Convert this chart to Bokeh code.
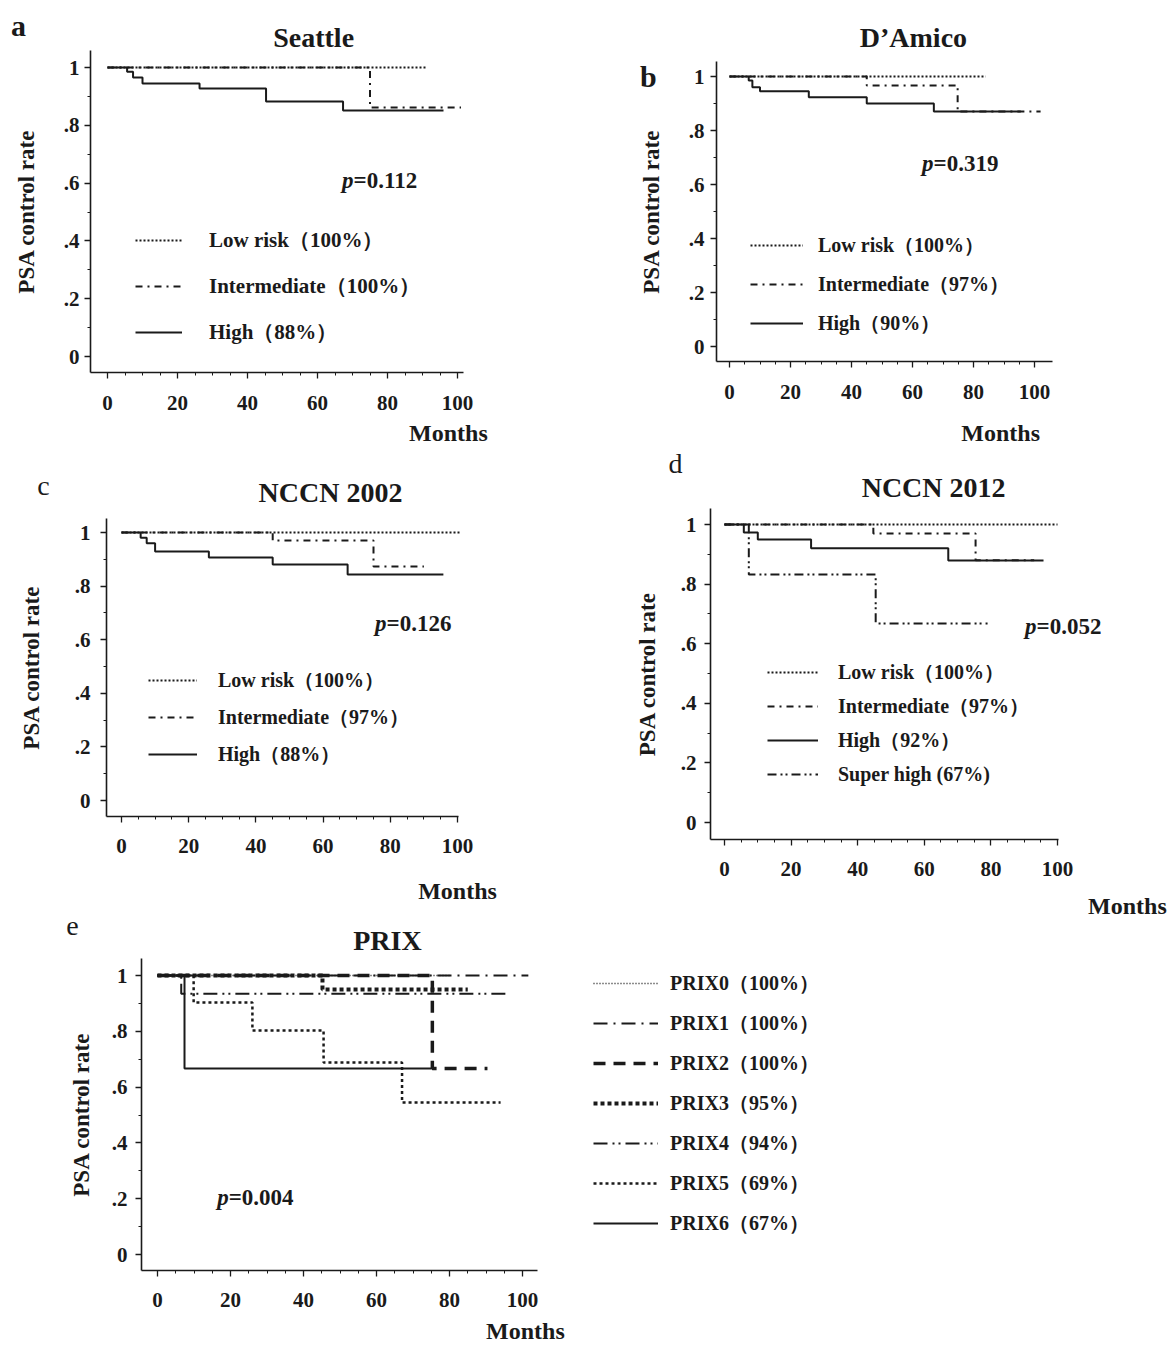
from bokeh.plotting import figure
from bokeh.models import (Label, Legend, LegendItem, FixedTicker, Range1d, LinearAxis,
                          CustomJSTickFormatter)
from bokeh.embed import file_html
from bokeh.resources import INLINE

SERIF = "Liberation Serif"
INK = "#1a1a1a"
W, H = 1173, 1344

# ---------------- data (months, PSA control rate) ----------------
# a: Seattle
a_labels = ["Low risk（100%）", "Intermediate（100%）", "High（88%）"]
a_low_t = [0, 91];                                  a_low_s = [1.0, 1.0]
a_int_t = [0, 75, 101];                             a_int_s = [1.0, 0.862, 0.862]
a_high_t = [0, 5.6, 7.3, 10, 26.3, 45.3, 67.3, 96]; a_high_s = [1.0, 0.985, 0.965, 0.945, 0.927, 0.882, 0.851, 0.851]
a_p = "=0.112"

# b: D'Amico
b_labels = ["Low risk（100%）", "Intermediate（97%）", "High（90%）"]
b_low_t = [0, 84];                                  b_low_s = [1.0, 1.0]
b_int_t = [0, 45, 74.8, 102];                       b_int_s = [1.0, 0.967, 0.87, 0.87]
b_high_t = [0, 6.3, 7.5, 10, 26, 45, 67, 95.5];     b_high_s = [1.0, 0.985, 0.96, 0.945, 0.923, 0.90, 0.87, 0.87]
b_p = "=0.319"

# c: NCCN 2002
c_labels = ["Low risk（100%）", "Intermediate（97%）", "High（88%）"]
c_low_t = [0, 101];                                 c_low_s = [1.0, 1.0]
c_int_t = [0, 45, 75, 90];                          c_int_s = [1.0, 0.97, 0.873, 0.873]
c_high_t = [0, 5.7, 7.5, 10, 26, 45, 67.3, 95.8];   c_high_s = [1.0, 0.98, 0.96, 0.929, 0.907, 0.881, 0.843, 0.843]
c_p = "=0.126"

# d: NCCN 2012
d_labels = ["Low risk（100%）", "Intermediate（97%）", "High（92%）", "Super high (67%)"]
d_low_t = [0, 100];                                 d_low_s = [1.0, 1.0]
d_int_t = [0, 44.7, 75.4, 93];                      d_int_s = [1.0, 0.97, 0.88, 0.88]
d_high_t = [0, 5.8, 10, 26, 67.2, 95.8];            d_high_s = [1.0, 0.973, 0.95, 0.92, 0.879, 0.879]
d_sup_t = [0, 7.3, 45.4, 79];                       d_sup_s = [1.0, 0.832, 0.668, 0.668]
d_p = "=0.052"

# e: PRIX
e_labels = ["PRIX0（100%）", "PRIX1（100%）", "PRIX2（100%）", "PRIX3（95%）",
            "PRIX4（94%）", "PRIX5（69%）", "PRIX6（67%）"]
e0_t = [0, 80];                       e0_s = [1.0, 1.0]
e1_t = [0, 101.6];                    e1_s = [1.0, 1.0]
e2_t = [0, 75.3, 90.4];               e2_s = [1.0, 0.667, 0.667]
e3_t = [0, 45.2, 85];                 e3_s = [1.0, 0.95, 0.95]
e4_t = [0, 6.5, 95.8];                e4_s = [1.0, 0.935, 0.935]
e5_t = [0, 9.9, 26, 45.5, 67, 94];    e5_s = [1.0, 0.903, 0.803, 0.688, 0.545, 0.545]
e6_t = [0, 7.4, 75];                  e6_s = [1.0, 0.667, 0.667]
e_p = "=0.004"

x_major = [0, 20, 40, 60, 80, 100]
x_minor = list(range(0, 101, 5))
y_major = [0, 0.2, 0.4, 0.6, 0.8, 1.0]
y_minor = [i / 10 for i in range(11)]

# line styles (dash, width)
LOW = ("2 2", 2)
INT = ("7 5 2 5", 2)
HIGH = ("solid", 2)
SUP = ("9 4 2 3 2 4", 2)
E_STY = [("1 2", 1.5), ("14 6 2 6", 2), ("12 8", 3.5), ("4 3", 4),
         ("14 5 2 4 2 5", 2), ("3 3", 2.5), ("solid", 2)]

# one canvas for the whole page; each panel gets its own pair of ranges and axes
p = figure(width=W, height=H, x_range=Range1d(0, W), y_range=Range1d(0, H),
           x_axis_type=None, y_axis_type=None, output_backend="svg",
           toolbar_location=None, title=None, min_border=0,
           min_border_left=0, min_border_right=0, min_border_top=0, min_border_bottom=0)
p.outline_line_color = None
p.background_fill_color = "white"
p.border_fill_color = "white"


def fmt():
    return CustomJSTickFormatter(code="""
if (Math.abs(tick) < 1e-9) return '0';
if (Math.abs(tick - 1) < 1e-9) return '1';
return tick.toFixed(1).replace(/^0/, '');
""")


def style_axis(ax):
    ax.axis_line_color = INK
    ax.axis_line_width = 1.6
    ax.major_tick_line_color = INK
    ax.minor_tick_line_color = INK
    ax.major_tick_line_width = 1.3
    ax.minor_tick_line_width = 1
    ax.major_tick_out = 6
    ax.major_tick_in = 0
    ax.minor_tick_out = 3
    ax.minor_tick_in = 0
    ax.major_label_text_font = SERIF
    ax.major_label_text_font_style = "bold"
    ax.major_label_text_font_size = "21px"
    ax.major_label_text_color = INK


def make_panel(name, x0px, sx, y0px, sy, xb, yb, ylab_standoff, ytick_standoff):
    xr, yr = "x_" + name, "y_" + name
    p.extra_x_ranges[xr] = Range1d(-x0px / sx, (W - x0px) / sx)
    p.extra_y_ranges[yr] = Range1d((y0px - H) / sy, y0px / sy)
    xa = LinearAxis(x_range_name=xr, y_range_name=yr, bounds=xb, fixed_location=yb[0],
                    ticker=FixedTicker(ticks=x_major, minor_ticks=x_minor),
                    major_label_standoff=17)
    ya = LinearAxis(x_range_name=xr, y_range_name=yr, bounds=yb, fixed_location=xb[0],
                    ticker=FixedTicker(ticks=y_major, minor_ticks=y_minor),
                    formatter=fmt(), major_label_standoff=ytick_standoff,
                    axis_label="PSA control rate", axis_label_standoff=ylab_standoff,
                    axis_label_text_font=SERIF, axis_label_text_font_style="bold",
                    axis_label_text_font_size="23px", axis_label_text_color=INK)
    style_axis(xa)
    style_axis(ya)
    p.add_layout(xa, "below")
    p.add_layout(ya, "left")
    return xr, yr


def curve(rn, t, s, sty):
    dash, lw = sty
    return p.step(t, s, mode="after", line_color=INK, line_width=lw, line_dash=dash,
                  x_range_name=rn[0], y_range_name=rn[1])


def add_legend(labels, rends, loc, glyph_w, standoff, spacing, h=30, size="20px"):
    items = [LegendItem(label=l, renderers=[r]) for l, r in zip(labels, rends)]
    lg = Legend(items=items, location=loc, padding=0, margin=0, spacing=spacing,
                glyph_width=glyph_w, glyph_height=h, label_height=h,
                label_standoff=standoff, border_line_color=None,
                background_fill_alpha=0, label_text_font=SERIF,
                label_text_font_style="bold", label_text_font_size=size,
                label_text_color=INK)
    p.add_layout(lg)


def txt(rn, x, y, text, size, style="bold"):
    p.add_layout(Label(x=x, y=y, text=text, text_font=SERIF, text_font_size=size,
                       text_font_style=style, text_align="center", text_baseline="middle",
                       text_color=INK, x_range_name=rn[0], y_range_name=rn[1]))


def pval(rn, x, y, rest):
    p.add_layout(Label(x=x, y=y, text="p", text_font=SERIF, text_font_size="23px",
                       text_font_style="bold italic", text_align="right",
                       text_baseline="middle", text_color=INK,
                       x_range_name=rn[0], y_range_name=rn[1]))
    p.add_layout(Label(x=x, y=y, text=rest, text_font=SERIF, text_font_size="23px",
                       text_font_style="bold", text_align="left",
                       text_baseline="middle", text_color=INK,
                       x_range_name=rn[0], y_range_name=rn[1]))


# ---------------- a ----------------
A = make_panel("a", 107, 3.5, 356, 289, (-4.857, 101.71), (-0.0554, 1.0588), 22, 5)
ra = [curve(A, a_low_t, a_low_s, LOW), curve(A, a_int_t, a_int_s, INT),
      curve(A, a_high_t, a_high_s, HIGH)]
add_legend(a_labels, ra, (135, H - 347), 47, 27, 16, size="21px")
txt(A, 58.9, 1.104, "Seattle", "28px")
txt(A, -25.4, 1.145, "a", "30px")
txt(A, 97.4, -0.266, "Months", "24px")
pval(A, 70.3, 0.609, a_p)

# ---------------- b ----------------
B = make_panel("b", 729, 3.05, 346, 270, (-4.26, 105.9), (-0.0556, 1.0556), 22, 6)
rb = [curve(B, b_low_t, b_low_s, LOW), curve(B, b_int_t, b_int_s, INT),
      curve(B, b_high_t, b_high_s, HIGH)]
add_legend(b_labels, rb, (750, H - 338), 53, 15, 9)
txt(B, 60.3, 1.144, "D’Amico", "28px")
txt(B, -26.6, 1.0, "b", "30px")
txt(B, 88.9, -0.322, "Months", "24px")
pval(B, 66.9, 0.678, b_p)

# ---------------- c ----------------
C = make_panel("c", 121, 3.36, 800, 268, (-4.46, 100.3), (-0.0597, 1.052), 28, 10)
rc = [curve(C, c_low_t, c_low_s, LOW), curve(C, c_int_t, c_int_s, INT),
      curve(C, c_high_t, c_high_s, HIGH)]
add_legend(c_labels, rc, (148, H - 769), 49, 21, 7)
txt(C, 62.2, 1.149, "NCCN 2002", "28px")
txt(C, -23.2, 1.175, "c", "28px", style="normal")
txt(C, 100, -0.336, "Months", "24px")
pval(C, 78.9, 0.66, c_p)

# ---------------- d ----------------
D = make_panel("d", 724, 3.33, 822, 298, (-4.2, 100.3), (-0.057, 1.0537), 18, 8)
rd = [curve(D, d_low_t, d_low_s, LOW), curve(D, d_int_t, d_int_s, INT),
      curve(D, d_high_t, d_high_s, HIGH), curve(D, d_sup_t, d_sup_s, SUP)]
add_legend(d_labels, rd, (767, H - 789), 51, 20, 4)
txt(D, 62.8, 1.124, "NCCN 2012", "28px")
txt(D, -14.7, 1.205, "d", "28px", style="normal")
txt(D, 121, -0.279, "Months", "24px")
pval(D, 93.7, 0.658, d_p)

# ---------------- e ----------------
E = make_panel("e", 157, 3.65, 1254, 279, (-4.38, 104.1), (-0.0573, 1.061), 15, 8)
e_ts = [e0_t, e1_t, e2_t, e3_t, e4_t, e5_t, e6_t]
e_ss = [e0_s, e1_s, e2_s, e3_s, e4_s, e5_s, e6_s]
re_ = [curve(E, t, s, st) for t, s, st in zip(e_ts, e_ss, E_STY)]
add_legend(e_labels, re_, (593, H - 1238), 65, 12, 10)
txt(E, 63, 1.125, "PRIX", "28px")
txt(E, -23.3, 1.179, "e", "28px", style="normal")
txt(E, 100.8, -0.273, "Months", "24px")
pval(E, 19.5, 0.204, e_p)

open("out.html", "w").write(file_html(p, INLINE))
